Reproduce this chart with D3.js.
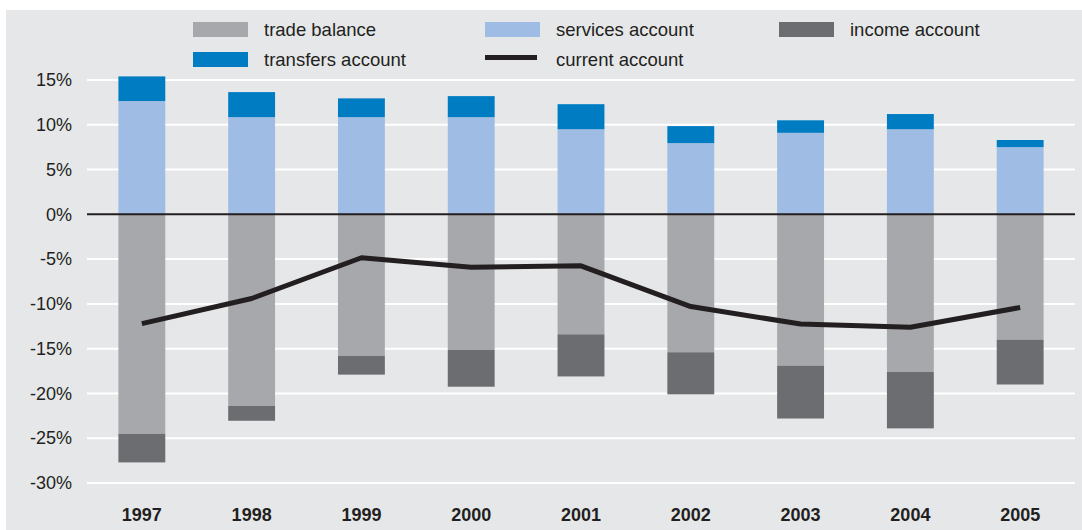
<!DOCTYPE html>
<html>
<head>
<meta charset="utf-8">
<script src="https://cdn.jsdelivr.net/npm/d3@7"></script>
<style>
  html, body { margin: 0; padding: 0; background: #ffffff; }
  svg { display: block; font-family: "Liberation Sans", Arial, sans-serif; }
</style>
</head>
<body>
<svg id="chart" width="1082" height="530"></svg>
<script>
// Balance of payments components, % of GDP
const years = ["1997", "1998", "1999", "2000", "2001", "2002", "2003", "2004", "2005"];
const tradeBalance     = [-24.5, -21.4, -15.8, -15.15, -13.4, -15.4, -16.9, -17.6, -14.0];
const incomeAccount    = [-3.2, -1.65, -2.1, -4.1, -4.7, -4.7, -5.9, -6.3, -5.0];
const servicesAccount  = [12.65, 10.85, 10.85, 10.85, 9.5, 7.95, 9.1, 9.5, 7.5];
const transfersAccount = [2.75, 2.8, 2.1, 2.35, 2.8, 1.9, 1.4, 1.7, 0.8];
const currentAccount   = [-12.2, -9.4, -4.85, -5.9, -5.75, -10.3, -12.25, -12.6, -10.4];
const yTicks = [15, 10, 5, 0, -5, -10, -15, -20, -25, -30];

const colors = {
  trade: "#a7a8ab",
  services: "#9fbce4",
  income: "#6c6d71",
  transfers: "#007cc3",
  line: "#231f20",
  panel: "#e6e7e9"
};

const svg = d3.select("#chart");

// panel background
svg.append("rect")
  .attr("x", 6).attr("y", 10)
  .attr("width", 1076).attr("height", 520)
  .attr("fill", colors.panel);

const x = d3.scaleBand().domain(years).range([87, 1075]).paddingInner(0.573).paddingOuter(0.286);
const y = d3.scaleLinear().domain([-30, 15]).range([483, 80]);

// gridlines
svg.append("g").selectAll("line")
  .data(yTicks.filter(d => d !== 0))
  .join("line")
  .attr("x1", 87).attr("x2", 1075)
  .attr("y1", d => y(d)).attr("y2", d => y(d))
  .attr("stroke", "#ffffff").attr("stroke-width", 2);

// y tick labels
const yAxis = d3.axisLeft(y).tickValues(yTicks).tickFormat(d => d + "%").tickSize(0).tickPadding(0);
const gy = svg.append("g").attr("transform", "translate(72,0)").call(yAxis);
gy.select(".domain").remove();
gy.selectAll("text")
  .attr("font-family", "Liberation Sans, Arial, sans-serif")
  .attr("font-size", 18).attr("fill", "#231f20");

// stacked segments: positive side (services, then transfers), negative side (trade, then income)
const segments = [];
years.forEach((yr, i) => {
  const s1 = servicesAccount[i], s2 = s1 + transfersAccount[i];
  const n1 = tradeBalance[i], n2 = n1 + incomeAccount[i];
  segments.push({ year: yr, y0: 0, y1: s1, color: colors.services });
  segments.push({ year: yr, y0: s1, y1: s2, color: colors.transfers });
  segments.push({ year: yr, y0: 0, y1: n1, color: colors.trade });
  segments.push({ year: yr, y0: n1, y1: n2, color: colors.income });
});

svg.append("g").selectAll("rect")
  .data(segments)
  .join("rect")
  .attr("x", d => x(d.year))
  .attr("width", x.bandwidth())
  .attr("y", d => y(Math.max(d.y0, d.y1)))
  .attr("height", d => Math.abs(y(d.y0) - y(d.y1)))
  .attr("fill", d => d.color);

// zero line
svg.append("line")
  .attr("x1", 87).attr("x2", 1075)
  .attr("y1", y(0)).attr("y2", y(0))
  .attr("stroke", colors.line).attr("stroke-width", 2);

// current account line
const line = d3.line()
  .x((d, i) => x(years[i]) + x.bandwidth() / 2)
  .y(d => y(d));
svg.append("path")
  .datum(currentAccount)
  .attr("d", line)
  .attr("fill", "none")
  .attr("stroke", colors.line)
  .attr("stroke-width", 5)
  .attr("stroke-linejoin", "round");

// x axis labels
const xAxis = d3.axisBottom(x).tickSize(0).tickPadding(0);
const gx = svg.append("g").attr("transform", "translate(0,508)").call(xAxis);
gx.select(".domain").remove();
gx.selectAll("text")
  .attr("font-family", "Liberation Sans, Arial, sans-serif")
  .attr("font-size", 18).attr("font-weight", "bold").attr("fill", "#231f20")
  .attr("dy", "0.71em");

// legend
const legendItems = [
  { label: "trade balance", color: colors.trade, type: "rect", x: 193, y: 22 },
  { label: "services account", color: colors.services, type: "rect", x: 485, y: 22 },
  { label: "income account", color: colors.income, type: "rect", x: 779, y: 22 },
  { label: "transfers account", color: colors.transfers, type: "rect", x: 193, y: 52 },
  { label: "current account", color: colors.line, type: "line", x: 485, y: 52 }
];
const lg = svg.append("g").selectAll("g").data(legendItems).join("g");
lg.filter(d => d.type === "rect").append("rect")
  .attr("x", d => d.x).attr("y", d => d.y)
  .attr("width", 55).attr("height", 15)
  .attr("fill", d => d.color);
lg.filter(d => d.type === "line").append("rect")
  .attr("x", d => d.x).attr("y", d => d.y + 3)
  .attr("width", 52).attr("height", 5)
  .attr("fill", d => d.color);
lg.append("text")
  .attr("x", d => d.x + 71)
  .attr("y", d => d.y + 14)
  .attr("font-size", 18.5)
  .attr("fill", "#231f20")
  .text(d => d.label);
</script>
</body>
</html>
